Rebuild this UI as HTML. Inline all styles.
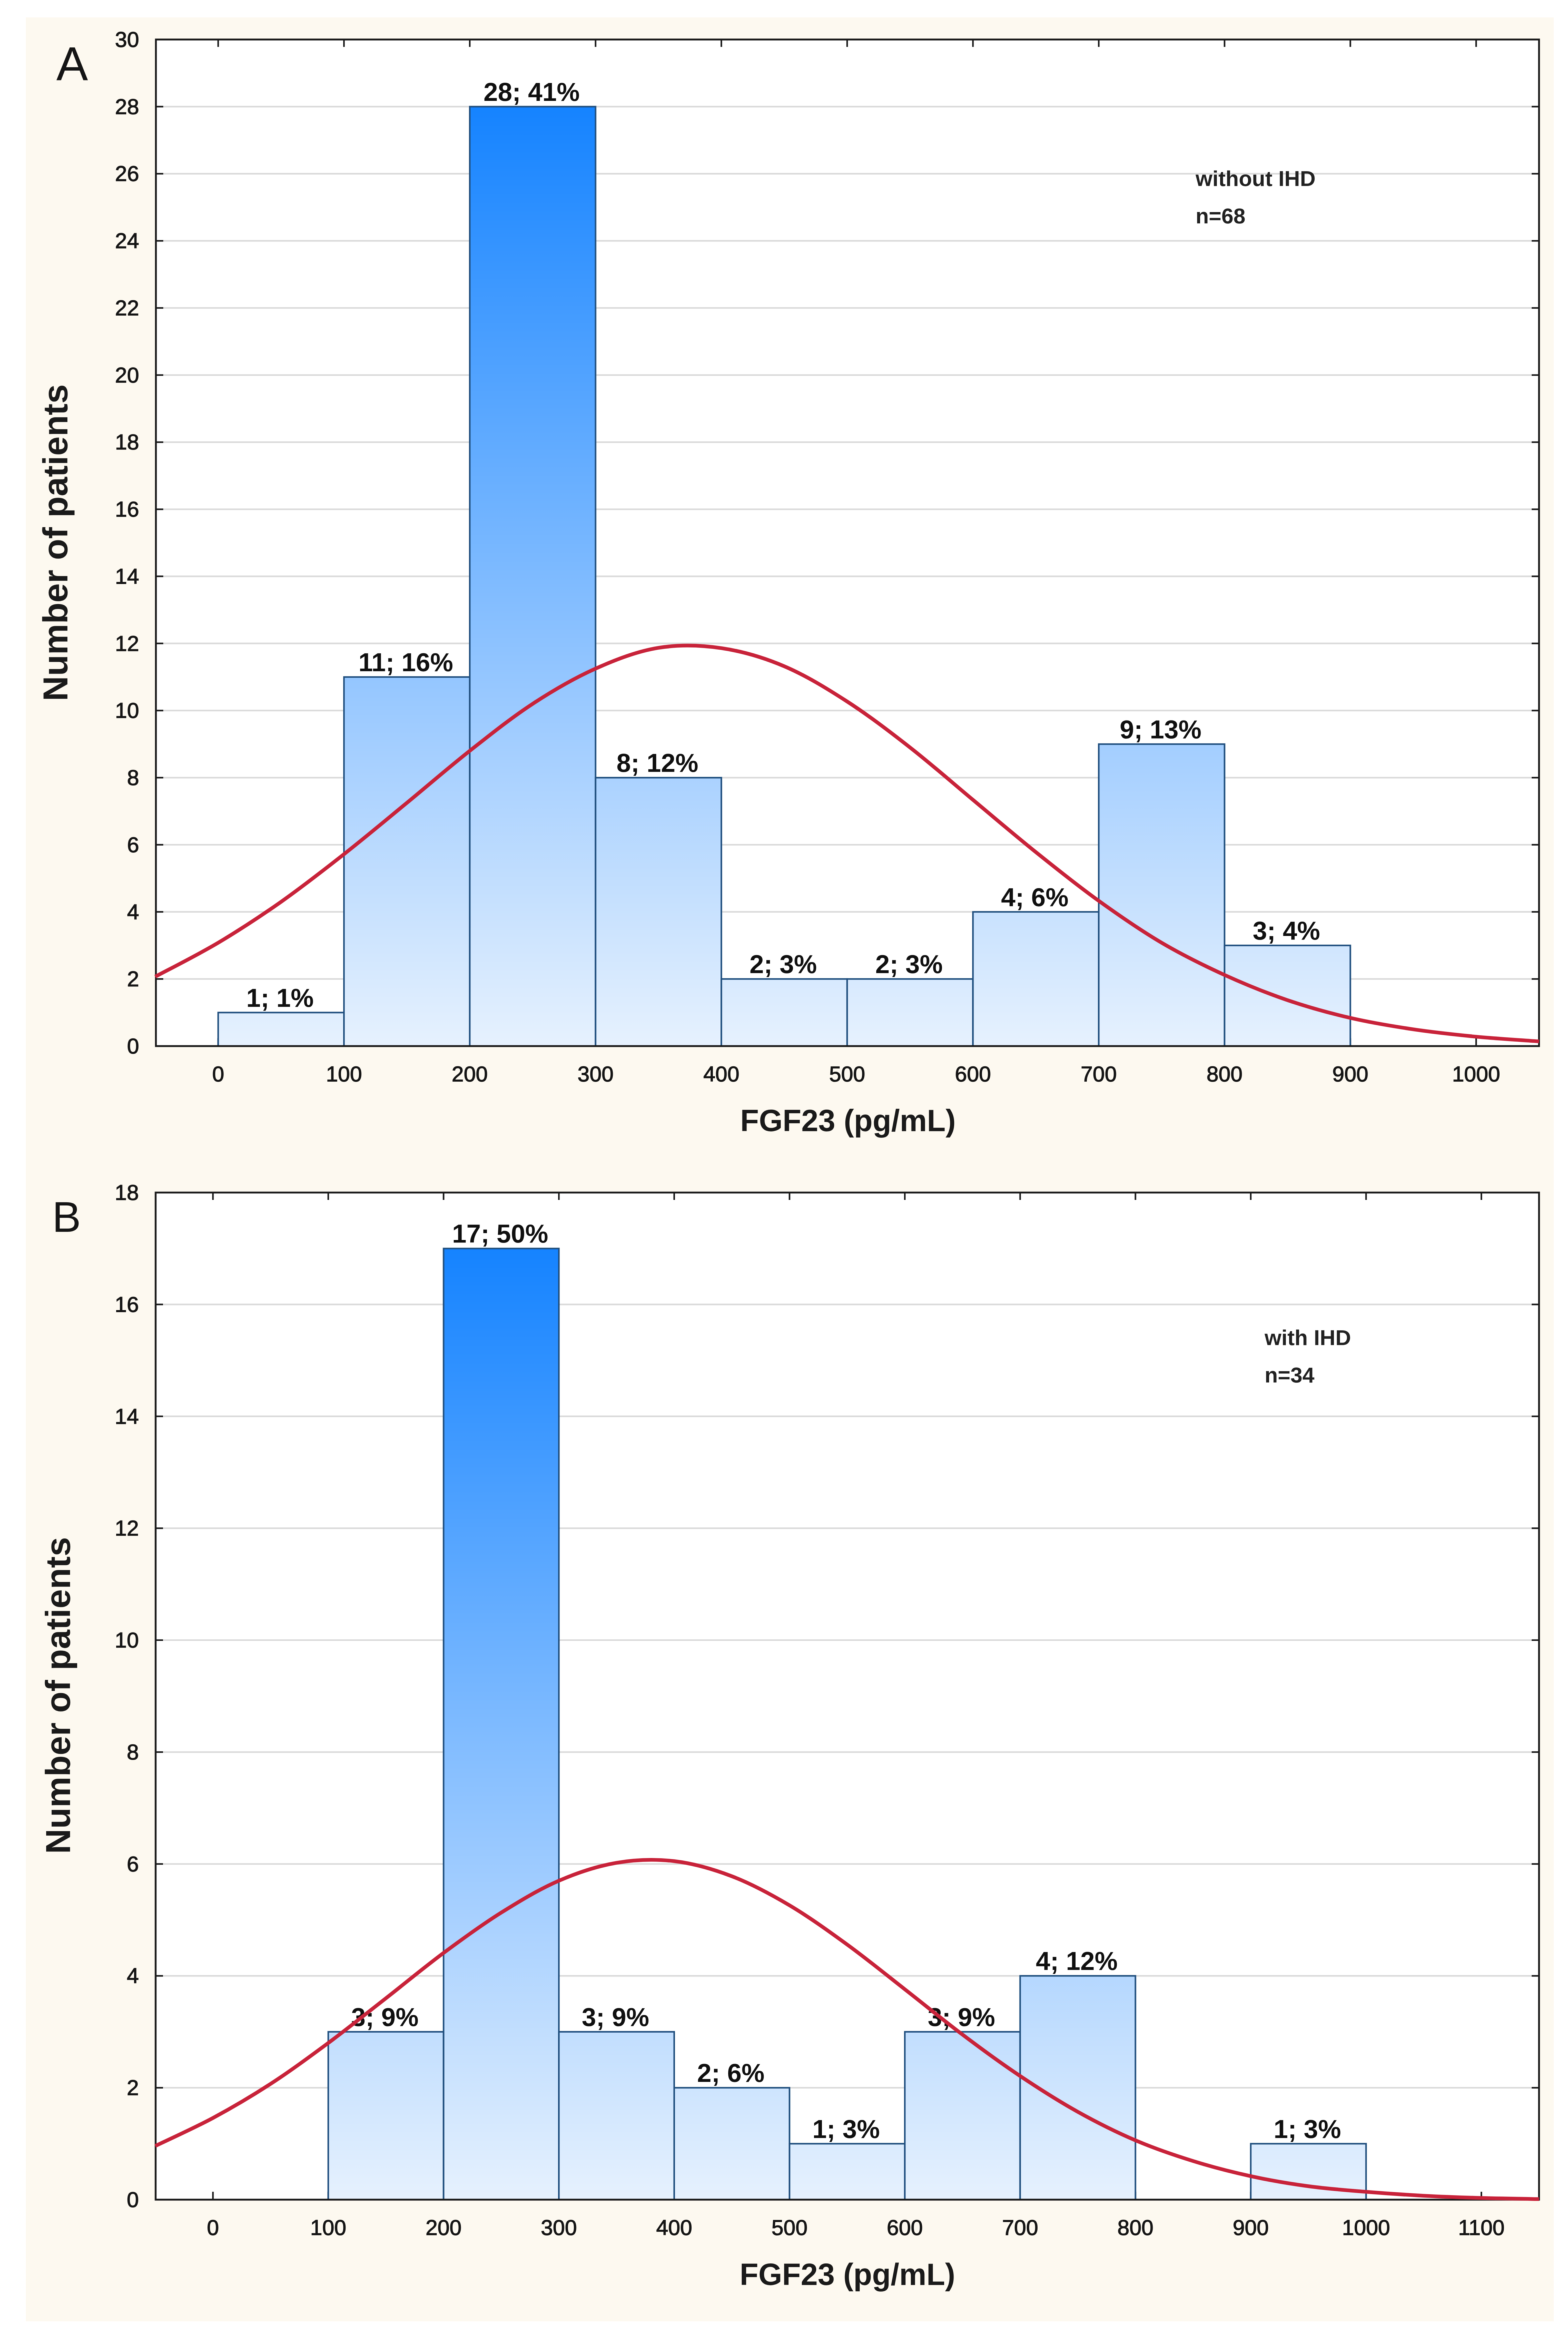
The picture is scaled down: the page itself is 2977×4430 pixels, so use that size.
<!DOCTYPE html>
<html lang="en">
<head>
<meta charset="utf-8">
<title>FGF23 histograms without and with IHD</title>
<style>
  html, body { margin: 0; padding: 0; background: #ffffff; }
  body { width: 2977px; height: 4430px; overflow: hidden; }
  svg { display: block; filter: blur(0.7px); font-family: "Liberation Sans", Arial, sans-serif; }
  .tick-label { font-size: 41px; fill: #161616; stroke: #161616; stroke-width: 1px; }
  .bar-label { font-size: 49px; font-weight: bold; fill: #101010; }
  .axis-title { font-size: 58px; font-weight: bold; fill: #1a1a1a; }
  .y-title { font-size: 66px; font-weight: bold; fill: #1a1a1a; }
  .note { font-size: 41px; font-weight: bold; fill: #222222; }
  .panel-letter { fill: #151515; }
</style>
</head>
<body>
<svg id="figure" xmlns="http://www.w3.org/2000/svg" width="2977" height="4430" viewBox="0 0 2977 4430">
  <defs>
    <linearGradient id="grad-a" gradientUnits="userSpaceOnUse" x1="0" y1="1985" x2="0" y2="203">
      <stop offset="0" stop-color="#e6f1fe"/>
      <stop offset="1" stop-color="#1583ff"/>
    </linearGradient>
    <linearGradient id="grad-b" gradientUnits="userSpaceOnUse" x1="0" y1="4175" x2="0" y2="2370">
      <stop offset="0" stop-color="#e6f1fe"/>
      <stop offset="1" stop-color="#1583ff"/>
    </linearGradient>
  </defs>
  <rect x="49" y="33" width="2901" height="4373" fill="#fdf9f0"/>

  <g id="panel-a"></g>
  <g id="panel-b"></g>

  <text class="panel-letter" x="107" y="152" font-size="90">A</text>
  <text class="panel-letter" x="99" y="2338" font-size="82">B</text>

  <text class="y-title" text-anchor="middle" transform="translate(128 1030) rotate(-90)">Number of patients</text>
  <text class="y-title" text-anchor="middle" transform="translate(133 3218) rotate(-90)">Number of patients</text>

  <text class="axis-title" x="1610" y="2147" text-anchor="middle">FGF23 (pg/mL)</text>
  <text class="axis-title" x="1609" y="4337" text-anchor="middle">FGF23 (pg/mL)</text>

  <text class="note" x="2270" y="353">without IHD</text>
  <text class="note" x="2270" y="424">n=68</text>
  <text class="note" x="2401" y="2553">with IHD</text>
  <text class="note" x="2401" y="2624">n=34</text>
</svg>

<script>
// Panel A data
var panelABinStarts = [0, 100, 200, 300, 400, 500, 600, 700, 800];
var panelACounts = [1, 11, 28, 8, 2, 2, 4, 9, 3];
var panelABarLabels = ["1; 1%", "11; 16%", "28; 41%", "8; 12%", "2; 3%", "2; 3%", "4; 6%", "9; 13%", "3; 4%"];
var panelAXTicks = [0, 100, 200, 300, 400, 500, 600, 700, 800, 900, 1000];
var panelAYTicks = [0, 2, 4, 6, 8, 10, 12, 14, 16, 18, 20, 22, 24, 26, 28, 30];
var panelACurveX = [-50, 0, 50, 100, 150, 200, 250, 300, 350, 400, 450, 500, 550, 600, 650, 700, 750, 800, 850, 900, 950, 1000, 1050];
var panelACurveY = [2.07, 3.08, 4.30, 5.72, 7.25, 8.80, 10.2, 11.25, 11.87, 11.86, 11.32, 10.27, 8.90, 7.34, 5.78, 4.33, 3.08, 2.12, 1.37, 0.84, 0.50, 0.28, 0.14];

// Panel B data
var panelBBinStarts = [100, 200, 300, 400, 500, 600, 700, 900];
var panelBCounts = [3, 17, 3, 2, 1, 3, 4, 1];
var panelBBarLabels = ["3; 9%", "17; 50%", "3; 9%", "2; 6%", "1; 3%", "3; 9%", "4; 12%", "1; 3%"];
var panelBXTicks = [0, 100, 200, 300, 400, 500, 600, 700, 800, 900, 1000, 1100];
var panelBYTicks = [0, 2, 4, 6, 8, 10, 12, 14, 16, 18];
var panelBCurveX = [-50, 0, 50, 100, 150, 200, 250, 300, 350, 400, 450, 500, 550, 600, 650, 700, 750, 800, 850, 900, 950, 1000, 1050, 1100, 1150];
var panelBCurveY = [0.96, 1.46, 2.07, 2.80, 3.60, 4.41, 5.13, 5.70, 6.02, 6.05, 5.78, 5.26, 4.56, 3.76, 2.95, 2.21, 1.57, 1.06, 0.69, 0.42, 0.24, 0.14, 0.07, 0.03, 0.01];

var SVG_NS = 'http://www.w3.org/2000/svg';

function make(tag, attrs, parent, text) {
  var el = document.createElementNS(SVG_NS, tag);
  for (var k in attrs) { el.setAttribute(k, attrs[k]); }
  if (text !== undefined) { el.textContent = text; }
  parent.appendChild(el);
  return el;
}

function splinePath(xs, ys, sx, sy) {
  var px = xs.map(sx), py = ys.map(sy);
  var d = 'M' + px[0].toFixed(1) + ' ' + py[0].toFixed(1);
  for (var i = 0; i < px.length - 1; i++) {
    var i0 = Math.max(i - 1, 0), i3 = Math.min(i + 2, px.length - 1);
    var c1x = px[i] + (px[i + 1] - px[i0]) / 6;
    var c1y = py[i] + (py[i + 1] - py[i0]) / 6;
    var c2x = px[i + 1] - (px[i3] - px[i]) / 6;
    var c2y = py[i + 1] - (py[i3] - py[i]) / 6;
    d += 'C' + c1x.toFixed(1) + ' ' + c1y.toFixed(1) + ' ' + c2x.toFixed(1) + ' ' + c2y.toFixed(1) + ' ' + px[i + 1].toFixed(1) + ' ' + py[i + 1].toFixed(1);
  }
  return d;
}

function drawPanel(cfg) {
  var root = document.getElementById(cfg.id);
  var sx = function (v) { return cfg.left + (v - cfg.xMin) / (cfg.xMax - cfg.xMin) * (cfg.right - cfg.left); };
  var sy = function (v) { return cfg.bottom - (v - cfg.yMin) / (cfg.yMax - cfg.yMin) * (cfg.bottom - cfg.top); };
  var el;

  el = make('rect', { x: cfg.left, y: cfg.top, width: cfg.right - cfg.left, height: cfg.bottom - cfg.top, fill: '#ffffff' }, root);
  
  

  cfg.yTicks.forEach(function (t) {
    var y = sy(t), line, mark, label;
    if (t > cfg.yMin && t < cfg.yMax) {
      line = make('line', { x1: cfg.left, x2: cfg.right, y1: y, y2: y, stroke: '#dadada', 'stroke-width': 3 }, root);
      
      
      mark = make('path', { d: 'M' + cfg.left + ' ' + y + 'h14M' + cfg.right + ' ' + y + 'h-14', stroke: '#1a1a1a', 'stroke-width': 3, fill: 'none' }, root);
      
      
    }
    label = make('text', { x: cfg.left - 32, y: y + 14, 'text-anchor': 'end', 'class': 'tick-label' }, root, String(t));
    
    
  });

  cfg.xTicks.forEach(function (t) {
    var x = sx(t), mark, label;
    mark = make('path', { d: 'M' + x + ' ' + cfg.top + 'v14M' + x + ' ' + cfg.bottom + 'v-15', stroke: '#1a1a1a', 'stroke-width': 3, fill: 'none' }, root);
    
    
    label = make('text', { x: x, y: cfg.bottom + 67, 'text-anchor': 'middle', 'class': 'tick-label' }, root, String(t));
    
    
  });

  cfg.binStarts.forEach(function (start, i) {
    var x0 = sx(start), x1 = sx(start + cfg.binWidth), yTop = sy(cfg.counts[i]), bar, label;
    bar = make('rect', { x: x0, y: yTop, width: x1 - x0, height: cfg.bottom - yTop, fill: 'url(#' + cfg.gradient + ')', stroke: '#21507f', 'stroke-width': 3 }, root);
    
    
    label = make('text', { x: (x0 + x1) / 2 - 2, y: yTop - 11, 'text-anchor': 'middle', 'class': 'bar-label' }, root, cfg.barLabels[i]);
    
    
  });

  el = make('path', { d: 'M' + cfg.left + ' ' + cfg.bottom + 'V' + cfg.top + 'H' + cfg.right + 'V' + cfg.bottom + 'Z', fill: 'none', stroke: '#1a1a1a', 'stroke-width': 3.5 }, root);
  
  

  el = make('path', { d: splinePath(cfg.curveX, cfg.curveY, sx, sy), fill: 'none', stroke: '#c8233a', 'stroke-width': 7, 'stroke-linejoin': 'round' }, root);
  
  
}

drawPanel({
  id: 'panel-a', gradient: 'grad-a',
  left: 296, right: 2922, top: 75, bottom: 1985.5,
  xMin: -49.5, xMax: 1050, yMin: 0, yMax: 30, binWidth: 100,
  binStarts: panelABinStarts, counts: panelACounts, barLabels: panelABarLabels,
  xTicks: panelAXTicks, yTicks: panelAYTicks, curveX: panelACurveX, curveY: panelACurveY
});

drawPanel({
  id: 'panel-b', gradient: 'grad-b',
  left: 295.5, right: 2922, top: 2263.5, bottom: 4175,
  xMin: -49.7, xMax: 1150, yMin: 0, yMax: 18, binWidth: 100,
  binStarts: panelBBinStarts, counts: panelBCounts, barLabels: panelBBarLabels,
  xTicks: panelBXTicks, yTicks: panelBYTicks, curveX: panelBCurveX, curveY: panelBCurveY
});
</script>
</body>
</html>
